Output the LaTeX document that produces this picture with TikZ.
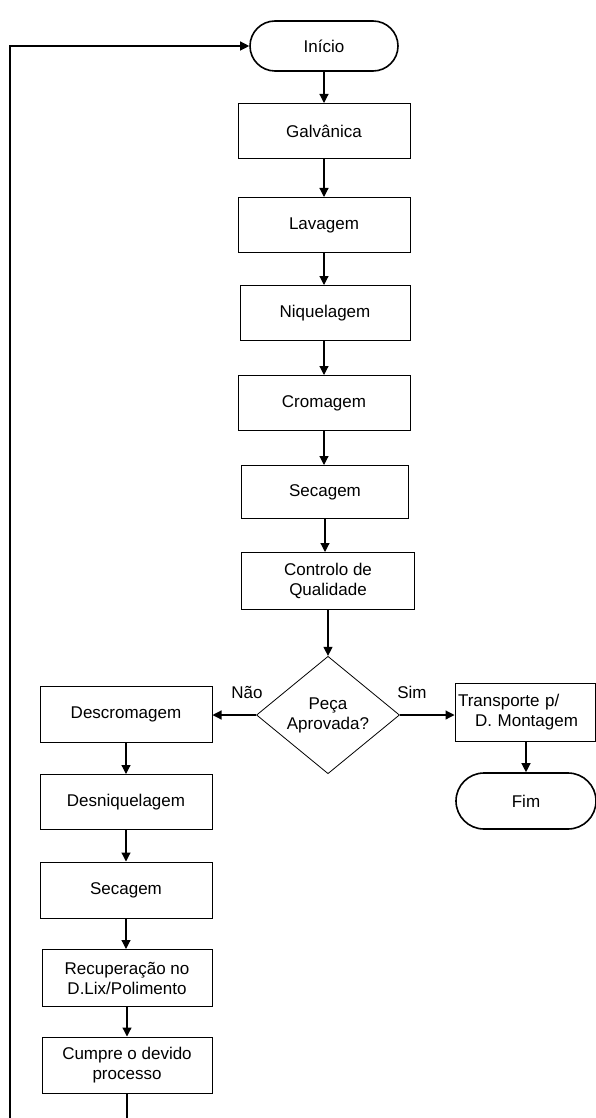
\documentclass[tikz,border=0pt]{standalone}
\usepackage{fontspec}
\setmainfont{Liberation Sans}
\usetikzlibrary{shapes.geometric,arrows.meta}
\begin{document}
\begin{tikzpicture}[x=1pt,y=-1pt,
  every node/.style={font=\fontsize{17}{20}\selectfont},
  box/.style={draw,line width=1pt,minimum width=172pt,minimum height=55pt,align=center,inner sep=2pt},
  term/.style={draw,line width=1.6pt,rounded corners=25pt,minimum width=148pt,minimum height=50pt},
  dec/.style={draw,line width=0.8pt,diamond,inner sep=0pt,align=center},
  arr/.style={line width=1.2pt,-{Triangle[length=9pt,width=9pt]}},
  lbl/.style={inner sep=0pt}]
\useasboundingbox (0,0) rectangle (595,1118);
\node[term] (inicio) at (324,46) {Início};
\node[box] (galv) at (324,131) {Galvânica};
\node[box] (lav) at (324,225) {Lavagem};
\node[box,minimum width=170pt] (niq) at (325,313) {Niquelagem};
\node[box] (crom) at (324,403) {Cromagem};
\node[box,minimum width=167pt,minimum height=53pt] (sec) at (325,492) {Secagem};
\node[box,minimum width=173pt,minimum height=57pt] (cq) at (328,581) {Controlo de\\Qualidade};
\node[dec,minimum width=143pt,minimum height=115pt] (dec) at (328,715) {Peça\\Aprovada?};
\node[box,minimum width=140pt,minimum height=58pt,text width=134pt,align=left] (trans) at (525,712) {Transporte p/\\\hspace*{1em}D. Montagem};
\node[term,minimum width=140pt,minimum height=56pt,rounded corners=28pt] (fim) at (526,801) {Fim};
\node[box,minimum height=56pt] (descr) at (126,714) {Descromagem};
\node[box] (desniq) at (126,802) {Desniquelagem};
\node[box,minimum height=56pt] (sec2) at (126,890) {Secagem};
\node[box,minimum width=170pt,minimum height=57pt] (rec) at (127,978) {Recuperação no\\D.Lix/Polimento};
\node[box,minimum width=170pt,minimum height=56pt] (cump) at (127,1065) {Cumpre o devido\\processo};
\coordinate (b1) at (127,1125);
\coordinate (b2) at (10,1125);
\coordinate (b3) at (10,46);
\draw[arr] (inicio.south) -- (inicio.south |- galv.north);
\draw[arr] (galv.south) -- (galv.south |- lav.north);
\draw[arr] (lav.south) -- (lav.south |- niq.north);
\draw[arr] (lav.south |- niq.south) -- (lav.south |- crom.north);
\draw[arr] (crom.south) -- (crom.south |- sec.north);
\draw[arr] (sec.south) -- (sec.south |- cq.north);
\draw[arr] (cq.south) -- (dec.north);
\draw[arr] (dec.east) -- (dec.east -| trans.west);
\draw[arr] (dec.west) -- (dec.west -| descr.east);
\draw[arr] (fim.north |- trans.south) -- (fim.north);
\draw[arr] (descr.south) -- (descr.south |- desniq.north);
\draw[arr] (desniq.south) -- (desniq.south |- sec2.north);
\draw[arr] (sec2.south) -- (sec2.south |- rec.north);
\draw[arr] (rec.south) -- (cump.north);
\draw[arr] (cump.south) -- (b1) -- (b2) -- (b3) -- (inicio.west);
\node[lbl] (nao) at (247,692) {Não};
\node[lbl] (sim) at (412,692) {Sim};
\end{tikzpicture}
\end{document}
